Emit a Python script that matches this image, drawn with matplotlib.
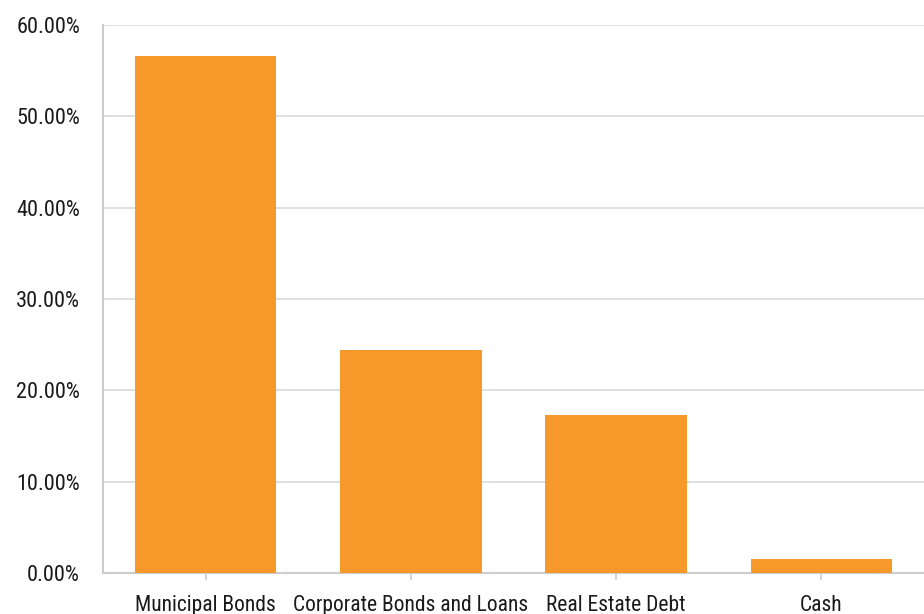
import matplotlib
matplotlib.use("Agg")
import matplotlib.pyplot as plt
from matplotlib import font_manager
from matplotlib.ticker import FuncFormatter

categories = ["Municipal Bonds", "Corporate Bonds and Loans", "Real Estate Debt", "Cash"]
weights = [56.6, 24.4, 17.3, 1.5]
yticks = [0, 10, 20, 30, 40, 50, 60]

available = {f.name for f in font_manager.fontManager.ttflist}
family = "DejaVu Sans"
stretch = "normal"
for name in ["Roboto Condensed", "Liberation Sans Narrow", "Open Sans Condensed", "DejaVu Sans Condensed"]:
    if name in available:
        family = name
        break
else:
    stretch = "condensed"

plt.rcParams["font.family"] = family

fig = plt.figure(figsize=(9.24, 6.14), dpi=100)
ax = fig.add_axes([103 / 924, 41 / 614, 821 / 924, 548 / 614])

ax.bar(range(len(categories)), weights, width=0.69, color="#f7992a", zorder=3)

ax.set_xlim(-0.5, 3.5)
ax.set_ylim(0, 60)
ax.set_yticks(yticks)
ax.yaxis.set_major_formatter(FuncFormatter(lambda v, p: f"{v:.2f}%"))
ax.set_xticks(range(len(categories)))
ax.set_xticklabels(categories)

ax.grid(axis="y", color="#d9d9d9", linewidth=1.2, zorder=0)
for s in ["top", "right"]:
    ax.spines[s].set_visible(False)
for s in ["left", "bottom"]:
    ax.spines[s].set_color("#cccccc")
    ax.spines[s].set_linewidth(1.5)

ax.tick_params(axis="y", length=0, pad=16.5, labelsize=16, labelcolor="#1a1a1a")
ax.tick_params(axis="x", length=5, width=1.2, color="#cccccc", pad=11,
               labelsize=15.5, labelcolor="#1a1a1a")
for lbl in ax.get_xticklabels() + ax.get_yticklabels():
    lbl.set_fontstretch(stretch)

fig.savefig("out.png", dpi=100)
